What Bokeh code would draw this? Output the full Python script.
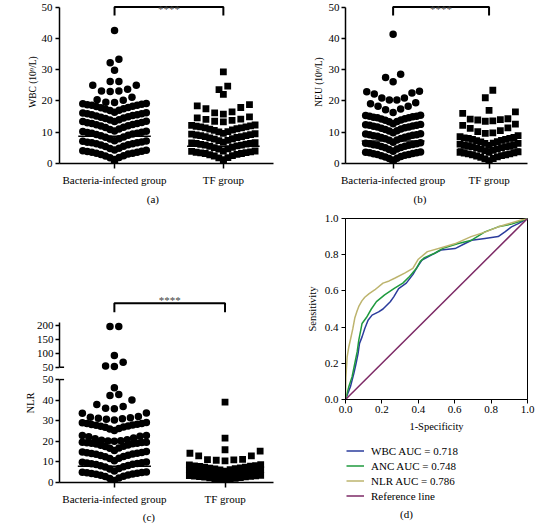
from bokeh.plotting import figure
from bokeh.models import (Range1d, FixedTicker, Label, Legend, LegendItem,
                          PrintfTickFormatter, Title)
from bokeh.layouts import row, column
from bokeh.embed import file_html
from bokeh.resources import INLINE

FONT = "Liberation Serif"
CATS = ["Bacteria-infected group", "TF group"]

# ---------------- data: scatter rows (values) ----------------
WBC_BACT = [
    [0.5],
    [1.3, 1.8, 1.9, 2.4, 2.5, 2.9, 3.0, 3.3, 3.3, 3.6, 3.6, 3.8, 3.9, 4.1, 4.2],
    [4.3, 4.8, 4.9, 5.4, 5.5, 5.9, 6.0, 6.3, 6.3, 6.6, 6.6, 6.8, 6.9, 7.1, 7.2],
    [7.3, 7.8, 7.9, 8.4, 8.5, 8.9, 9.0, 9.3, 9.4, 9.7, 9.7, 9.9, 10.0, 10.2, 10.3],
    [10.4, 10.9, 11.0, 11.5, 11.6, 12.0, 12.1, 12.4, 12.5, 12.8, 12.8, 13.0, 13.1, 13.4, 13.5],
    [13.4, 13.9, 14.0, 14.4, 14.5, 14.8, 14.9, 15.2, 15.3, 15.6, 15.6, 15.9, 15.9, 16.1, 16.2],
    [16.4, 16.9, 17.0, 17.4, 17.5, 17.8, 17.9, 18.2, 18.3, 18.6, 18.6, 18.8, 18.9, 19.1, 19.2],
    [19.5, 19.6, 20.2, 20.4, 21.2],
    [23.0, 23.2, 23.2, 23.7, 25.0, 25.0],
    [26.2, 26.2],
    [29.8],
    [32.2, 33.3],
    [42.5],
]
WBC_TF = [
    [0.4],
    [1.2, 1.8, 1.9, 2.4, 2.5, 2.8, 2.9, 3.2, 3.2, 3.4, 3.5, 3.6, 3.7, 3.9, 4.0],
    [4.0, 4.6, 4.7, 5.1, 5.2, 5.5, 5.6, 5.9, 5.9, 6.1, 6.2, 6.4, 6.4, 6.6, 6.7],
    [6.8, 7.3, 7.4, 7.8, 7.9, 8.2, 8.3, 8.6, 8.6, 8.9, 8.9, 9.1, 9.2, 9.4, 9.5],
    [9.6, 10.1, 10.2, 10.6, 10.7, 11.0, 11.1, 11.4, 11.4, 11.7, 11.7, 11.9, 12.0, 12.2, 12.3],
    [13.3, 13.5, 13.8, 14.1, 14.2, 14.6, 14.9],
    [15.8, 16.2, 16.5, 17.5, 17.9, 18.4, 18.8],
    [22.1],
    [23.6, 24.7],
    [29.3],
]
NEU_BACT = [
    [0.4],
    [1.0, 1.6, 1.7, 2.1, 2.2, 2.5, 2.6, 2.9, 2.9, 3.1, 3.2, 3.4, 3.4, 3.6, 3.7],
    [3.9, 4.5, 4.6, 5.0, 5.1, 5.4, 5.5, 5.8, 5.8, 6.0, 6.1, 6.3, 6.3, 6.5, 6.6],
    [6.8, 7.4, 7.5, 7.9, 8.0, 8.3, 8.4, 8.7, 8.7, 8.9, 9.0, 9.2, 9.2, 9.4, 9.5],
    [9.8, 10.4, 10.5, 10.9, 11.0, 11.3, 11.4, 11.7, 11.7, 11.9, 12.0, 12.2, 12.2, 12.4, 12.5],
    [12.7, 13.3, 13.4, 13.8, 13.9, 14.2, 14.3, 14.6, 14.6, 14.8, 14.9, 15.1, 15.1, 15.3, 15.4],
    [16.3, 17.2, 17.4, 18.3, 18.3, 19.1, 19.4],
    [20.3, 20.3, 20.9, 20.9, 22.2, 22.5, 22.9, 23.1],
    [26.1, 27.5, 28.5],
    [41.3],
]
NEU_TF = [
    [0.4],
    [0.9, 1.5, 1.6, 2.0, 2.1, 2.4, 2.5, 2.8, 2.8, 3.1, 3.1, 3.3, 3.4, 3.6, 3.7],
    [3.6, 4.1, 4.2, 4.6, 4.7, 5.0, 5.1, 5.4, 5.4, 5.7, 5.7, 5.9, 6.0, 6.2, 6.4],
    [5.8, 6.4, 6.5, 6.9, 7.0, 7.3, 7.4, 7.7, 7.7, 8.0, 8.0, 8.2, 8.3, 8.6, 8.9],
    [9.6, 9.8, 10.2, 10.5, 11.2, 11.4, 12.2, 12.6],
    [13.5, 13.6, 13.9, 14.0, 14.2, 14.3, 16.0, 16.5],
    [17.0],
    [21.0, 23.4],
]
NLR_BACT = [
    [0.5],
    [1.0, 2.0, 2.2, 2.9, 3.0, 3.5, 3.6, 4.0, 4.1, 4.4, 4.5, 4.7, 4.8, 5.0, 5.1],
    [5.6, 6.6, 6.8, 7.5, 7.6, 8.1, 8.2, 8.7, 8.8, 9.1, 9.2, 9.5, 9.6, 9.8, 9.9],
    [10.5, 11.6, 11.8, 12.5, 12.6, 13.1, 13.2, 13.7, 13.8, 14.1, 14.2, 14.5, 14.6, 14.8, 15.0],
    [15.5, 16.6, 16.8, 17.5, 17.6, 18.1, 18.2, 18.7, 18.8, 19.0, 19.1, 19.3, 19.4, 19.5, 19.6],
    [20.0, 20.1, 20.3, 20.5, 20.8, 21.2, 21.6, 22.2, 22.5, 22.8, 22.8],
    [25.2, 26.0, 26.2, 26.8, 26.9, 27.3, 27.4, 27.8, 27.9, 28.2, 28.3, 28.6, 28.7, 29.0, 29.1],
    [30.4, 30.7, 30.9, 31.2, 31.4, 31.7, 32.0, 33.6, 33.8],
    [35.8, 36.1, 36.9, 37.9, 40.1],
    [42.2, 42.7],
    [46.0],
    [53.0, 54.0, 68.0],
    [92.0],
    [197.0, 197.0],
]
NLR_TF = [
    [0.3],
    [0.8, 1.4, 1.5, 1.9, 2.0, 2.3, 2.4, 2.6, 2.7, 2.9, 3.0, 3.1, 3.2, 3.4, 3.5],
    [3.4, 4.0, 4.1, 4.5, 4.6, 4.9, 5.0, 5.3, 5.3, 5.6, 5.6, 5.8, 5.9, 6.1, 6.2],
    [5.5, 6.1, 6.2, 6.6, 6.7, 7.0, 7.1, 7.4, 7.5, 7.8, 7.9, 8.1, 8.2, 8.5, 8.7],
    [10.5, 10.8, 11.0, 11.1, 11.2, 12.9, 12.9, 14.2, 15.2],
    [15.9],
    [21.5],
    [39.0],
]
WBC_MEANS = [8.7, 5.5]
NEU_MEANS = [7.2, 4.6]
NLR_MEANS = [7.9, 3.7]

# ---------------- data: ROC curves ----------------
NLR_FPR = [0, 0.002, 0.009, 0.018, 0.027, 0.04, 0.051, 0.064, 0.073, 0.09, 0.106, 0.13, 0.16,
           0.206, 0.24, 0.27, 0.325, 0.37, 0.40, 0.45, 0.54, 0.6, 0.69, 0.77, 0.84, 0.91, 0.96, 1.0]
NLR_TPR = [0, 0.12, 0.235, 0.29, 0.33, 0.39, 0.45, 0.49, 0.514, 0.545, 0.565, 0.585, 0.605,
           0.643, 0.655, 0.67, 0.698, 0.725, 0.775, 0.817, 0.843, 0.86, 0.90, 0.926, 0.954, 0.975, 0.99, 1.0]
ANC_FPR = [0, 0.018, 0.036, 0.051, 0.064, 0.073, 0.082, 0.091, 0.115, 0.142, 0.17, 0.215, 0.27,
           0.315, 0.352, 0.39, 0.41, 0.434, 0.49, 0.535, 0.62, 0.693, 0.766, 0.839, 0.912, 0.96, 1.0]
ANC_TPR = [0, 0.07, 0.125, 0.199, 0.263, 0.328, 0.374, 0.42, 0.453, 0.50, 0.541, 0.578, 0.615,
           0.643, 0.68, 0.725, 0.762, 0.784, 0.808, 0.835, 0.862, 0.88, 0.926, 0.954, 0.969, 0.985, 1.0]
WBC_FPR = [0, 0.027, 0.046, 0.058, 0.069, 0.077, 0.091, 0.106, 0.124, 0.146, 0.182, 0.206, 0.246,
           0.265, 0.292, 0.334, 0.37, 0.39, 0.42, 0.471, 0.525, 0.602, 0.657, 0.693, 0.766, 0.839,
           0.876, 0.912, 0.949, 1.0]
WBC_TPR = [0, 0.07, 0.144, 0.199, 0.254, 0.31, 0.346, 0.392, 0.438, 0.466, 0.484, 0.50, 0.54,
           0.567, 0.613, 0.643, 0.69, 0.725, 0.77, 0.798, 0.826, 0.834, 0.862, 0.88, 0.89, 0.90,
           0.926, 0.954, 0.972, 1.0]
REF_X = [0, 1]
REF_Y = [0, 1]
ROC_LABELS = ["WBC AUC = 0.718", "ANC AUC = 0.748", "NLR AUC = 0.786", "Reference line"]
ROC_COLORS = ["#2b3c9c", "#1f9a3e", "#bdb46e", "#7d2a66"]


def swarm(rows, center, ppu, wmax=70.0, dx_nat=9.6):
    """Prism-like column scatter: each row sorted, lowest in the middle."""
    xs, ys = [], []
    for r in rows:
        vals = sorted(r)
        n = len(vals)
        dx = dx_nat if n < 2 else min(dx_nat, wmax / (n - 1))
        for i, v in enumerate(vals):
            if n % 2 == 1:
                k = (i + 1) // 2
                off = 0 if i == 0 else (-k if i % 2 == 1 else k) * dx
            else:
                k = i // 2
                off = (k + 0.5) * dx * (-1 if i % 2 == 0 else 1)
            xs.append(center + off / ppu)
            ys.append(v)
    return xs, ys


def base_fig(w, h, ml, mr, mt, mb, xr, yr):
    p = figure(width=w, height=h, x_range=Range1d(*xr), y_range=Range1d(*yr),
               output_backend="svg", toolbar_location=None,
               min_border_left=ml, min_border_right=mr,
               min_border_top=mt, min_border_bottom=mb)
    p.grid.visible = False
    p.outline_line_color = None
    p.background_fill_color = "white"
    p.border_fill_color = "white"
    for ax in p.axis:
        ax.axis_line_width = 1.5
        ax.major_tick_line_width = 1.5
        ax.major_tick_out = 4
        ax.major_tick_in = 0
        ax.minor_tick_out = 0
        ax.minor_tick_in = 0
        ax.major_label_text_font = FONT
        ax.major_label_text_font_size = "11px"
        ax.major_label_text_color = "black"
        ax.axis_label_text_font = FONT
        ax.axis_label_text_font_style = "normal"
        ax.axis_label_text_font_size = "10.5px"
        ax.axis_label_text_color = "black"
        ax.major_label_standoff = 3
        ax.axis_label_standoff = 2
    return p


def strip(w, h, ml, mr):
    """Axis-less strip whose data units are pixels measured from the frame's left/bottom."""
    f = figure(width=w, height=h, x_range=Range1d(0, w - ml - mr), y_range=Range1d(0, h),
               output_backend="svg", toolbar_location=None,
               x_axis_location=None, y_axis_location=None,
               min_border_left=ml, min_border_right=mr, min_border_top=0, min_border_bottom=0)
    f.grid.visible = False
    f.outline_line_color = None
    f.background_fill_color = "white"
    f.border_fill_color = "white"
    return f


def text_label(p, x, y, txt):
    p.add_layout(Label(x=x, y=y, text=txt, text_align="center", text_baseline="middle",
                       text_font=FONT, text_font_size="11px", text_color="black"))


def cat_xaxis(p):
    p.xaxis.ticker = FixedTicker(ticks=[1, 2])
    p.xaxis.major_label_overrides = {1: CATS[0], 2: CATS[1]}
    p.xaxis.major_tick_out = 5
    p.xaxis.major_label_standoff = 5


def add_points(p, rows_b, rows_t, ppu, lo=None, hi=None, wmax_t=70.0):
    for rows, c, marker, size, wm in ((rows_b, 1, "circle", 7.5, 70.0),
                                      (rows_t, 2, "square", 6.8, wmax_t)):
        xs, ys = swarm(rows, c, ppu, wmax=wm)
        keep = [(x, y) for x, y in zip(xs, ys)
                if (lo is None or y > lo) and (hi is None or y <= hi)]
        if keep:
            p.scatter([k[0] for k in keep], [k[1] for k in keep], marker=marker,
                      size=size, color="black", line_width=0)


def add_means(p, means, ppu, half=40):
    for c, m in zip([1, 2], means):
        p.segment(x0=[c - half / ppu], x1=[c + half / ppu], y0=[m], y1=[m],
                  line_color="black", line_width=1.5)


def bracket(p, y_top, y_leg, y_star):
    p.line([1, 1, 2, 2], [y_leg, y_top, y_top, y_leg], line_color="black", line_width=2)
    p.add_layout(Label(x=1.5, y=y_star, text="****", text_align="center",
                       text_baseline="alphabetic", text_font=FONT,
                       text_font_size="11px", text_color="#444444"))


# ---------------- panel (a) ----------------
PPU_A = 120.0
YR_AB = (0, 52.08)
pa = base_fig(294, 190, 37, 21, 0, 27, (0.4942, 2.4608), YR_AB)
cat_xaxis(pa)
pa.yaxis.ticker = FixedTicker(ticks=[0, 10, 20, 30, 40, 50])
pa.yaxis.bounds = (0, 50)
pa.yaxis.axis_label = "WBC (10\u2079/L)"
pa.yaxis.axis_label_text_font_size = "9.5px"
pa.yaxis.major_label_standoff = 3
pa.yaxis.axis_label_standoff = 1
add_points(pa, WBC_BACT, WBC_TF, PPU_A)
add_means(pa, WBC_MEANS, PPU_A)
bracket(pa, 50, 47.3, 49.36)

sa = strip(294, 98, 37, 21)          # screen y 190..288, frame x 37..273
text_label(sa, 140 - 37, 98 - 8, "(a)")

# ---------------- panel (b) ----------------
PPU_B = 122.3
pb = base_fig(264, 190, 31, 1, 0, 27, (0.5037, 2.4007), YR_AB)
cat_xaxis(pb)
pb.yaxis.ticker = FixedTicker(ticks=[0, 10, 20, 30, 40, 50])
pb.yaxis.bounds = (0, 50)
pb.yaxis.axis_label = "NEU (10\u2079/L)"
pb.yaxis.axis_label_text_font_size = "9.5px"
pb.yaxis.major_label_standoff = 2
pb.yaxis.axis_label_standoff = 2
add_points(pb, NEU_BACT, NEU_TF, PPU_B, wmax_t=74.0)
add_means(pb, NEU_MEANS, PPU_B)
bracket(pb, 50, 47.3, 49.36)

sb = strip(264, 18, 31, 1)           # screen y 190..208, frame x 325..557
text_label(sb, 420 - 325, 18 - 8, "(b)")

# ---------------- panel (c): broken axis, two stacked frames ----------------
PPU_C = 121.0
XR_C = (0.5041, 2.4380)
pct = base_fig(294, 85, 59, 1, 0, 0, XR_C, (27.2, 335.1))
pct.xaxis.visible = False
pct.yaxis.ticker = FixedTicker(ticks=[50, 100, 150, 200])
pct.yaxis.bounds = (50, 212)
pct.yaxis.major_label_standoff = 2
add_points(pct, NLR_BACT, NLR_TF, PPU_C, lo=50, wmax_t=78.0)
pct.segment(x0=[XR_C[0]], x1=[XR_C[0] + 5 / PPU_C], y0=[50], y1=[50],
            line_color="black", line_width=1.5)
bracket(pct, 281.9, 249.3, 291.7)

pcb = base_fig(294, 134, 59, 1, 5, 25, XR_C, (0, 50.49))
cat_xaxis(pcb)
pcb.yaxis.ticker = FixedTicker(ticks=[0, 10, 20, 30, 40, 50])
pcb.yaxis.bounds = (0, 50)
pcb.yaxis.major_label_standoff = 2
add_points(pcb, NLR_BACT, NLR_TF, PPU_C, hi=50, wmax_t=78.0)
add_means(pcb, NLR_MEANS, PPU_C)
pcb.segment(x0=[XR_C[0]], x1=[XR_C[0] + 5 / PPU_C], y0=[50], y1=[50],
            line_color="black", line_width=1.5)
pcb.add_layout(Title(text="NLR", align="right", offset=14, standoff=7,
                     text_font=FONT, text_font_size="10.5px", text_font_style="normal",
                     text_color="black"), "left")

sc = strip(294, 16, 59, 1)           # screen y 507..523
text_label(sc, 156.7 - 59, 16 - 9.5, "(c)")

# ---------------- panel (d): ROC ----------------
pd_ = base_fig(264, 232, 51, 31, 10, 41, (0, 1), (0, 1))
pd_.outline_line_color = "black"
pd_.outline_line_width = 1
for ax in pd_.axis:
    ax.axis_line_width = 1
    ax.major_tick_line_width = 1
    ax.ticker = FixedTicker(ticks=[0, 0.2, 0.4, 0.6, 0.8, 1.0])
    ax.formatter = PrintfTickFormatter(format="%.1f")
pd_.xaxis.axis_label = "1-Specificity"
pd_.yaxis.axis_label = "Sensitivity"
pd_.xaxis.major_label_standoff = 2
pd_.xaxis.axis_label_standoff = 5
pd_.yaxis.major_label_standoff = 3
pd_.yaxis.axis_label_standoff = 4
pd_.line(WBC_FPR, WBC_TPR, line_color=ROC_COLORS[0], line_width=1.5)
pd_.line(ANC_FPR, ANC_TPR, line_color=ROC_COLORS[1], line_width=1.5)
pd_.line(NLR_FPR, NLR_TPR, line_color=ROC_COLORS[2], line_width=1.5)
pd_.line(REF_X, REF_Y, line_color=ROC_COLORS[3], line_width=1.5)

# legend strip below panel (d): frame x 345..527, screen y 440..523
plg = strip(264, 83, 51, 31)
swatches = [plg.line([-20, -10], [-20, -20], line_color=c, line_width=1.5)
            for c in ROC_COLORS]
legend = Legend(items=[LegendItem(label=lab, renderers=[r])
                       for lab, r in zip(ROC_LABELS, swatches)],
                location=(1, 20), glyph_width=18, glyph_height=15, label_height=15,
                spacing=0, padding=0, margin=0, label_standoff=7,
                border_line_color=None, background_fill_alpha=0,
                label_text_font=FONT, label_text_font_size="11px",
                label_text_color="black")
plg.add_layout(legend)
text_label(plg, 406 - 345, 83 - 73, "(d)")

layout = row(column(pa, sa, pct, pcb, sc), column(pb, sb, pd_, plg))
open("out.html", "w").write(file_html(layout, INLINE))
